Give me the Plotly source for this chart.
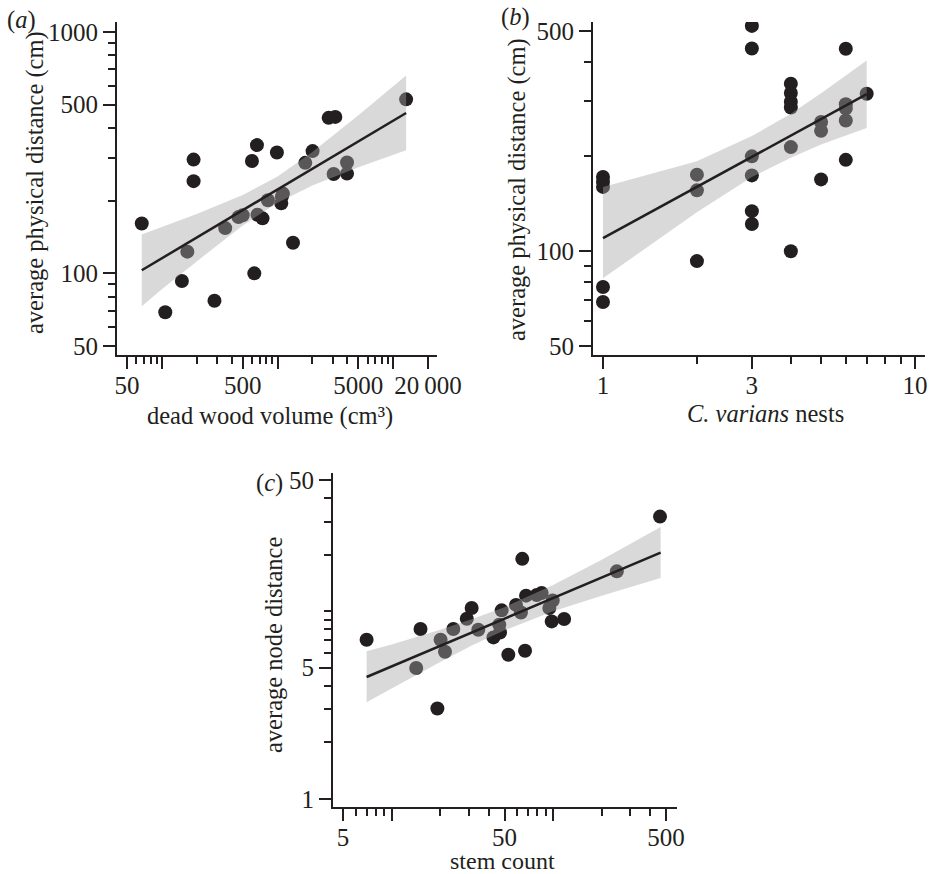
import plotly.graph_objects as go

INK = "#231f20"
BAND = "rgba(164,164,166,0.42)"
FONT = "Liberation Serif"

# panel (a): dead wood volume vs average physical distance
a_x = [67, 107, 149, 166, 188, 188, 285, 353, 460, 500, 601, 664, 630, 671, 742,
       826, 988, 1077, 1114, 1090, 1361, 1738, 2010, 2767, 3162, 3055, 3990, 3990, 12940]
a_y = [161, 69, 93, 123, 296, 241, 77, 154, 171, 174, 292, 340, 100, 175, 169,
       201, 317, 195, 214, 208, 134, 287, 321, 441, 445, 258, 288, 259, 526]
a_fit_x = [67, 12940]
a_fit_y = [103, 462]
a_band_x = [67, 100, 200, 500, 1000, 2000, 5000, 12940]
a_band_hi = [145, 156, 176, 211, 252, 318, 452, 661]
a_band_lo = [73, 86, 112, 158, 196, 231, 275, 324]

# panel (b): C. varians nests vs average physical distance
b_x = [1, 1, 1, 1, 1, 2, 2, 2, 3, 3, 3, 3, 3, 3, 4, 4, 4, 4, 4, 4,
       5, 5, 5, 6, 6, 6, 6, 6, 7]
b_y = [172, 166, 160, 77, 69, 175, 156, 93, 519, 440, 200, 174, 134, 122,
       340, 318, 298, 286, 214, 100, 257, 241, 169, 439, 293, 284, 260, 195, 316]
b_fit_x = [1, 7]
b_fit_y = [110, 315]
b_band_x = [1, 2, 3, 4, 5, 6, 7]
b_band_hi = [160, 193, 232, 273, 317, 360, 403]
b_band_lo = [82, 133, 172, 198, 218, 233, 246]

# panel (c): stem count vs average node distance
c_x = [7.0, 14.2, 15.1, 19.2, 20.1, 21.4, 24.1, 29.2, 31.3, 34.4, 42.7, 46.9, 46.4, 48.0,
       52.8, 58.9, 63.2, 64.4, 67.0, 68.0, 79.1, 84.9, 94.7, 99.4, 98, 117, 248, 459]
c_y = [7.04, 4.98, 8.03, 3.03, 7.05, 6.08, 8.03, 9.11, 10.4, 7.96, 7.25, 7.7, 8.47, 10.1,
       5.86, 10.8, 9.84, 19.0, 6.15, 12.1, 12.2, 12.5, 10.4, 11.4, 8.82, 9.08, 16.3, 31.9]
c_fit_x = [7.0, 463]
c_fit_y = [4.46, 20.5]
c_band_x = [7.0, 10, 20, 31.6, 50, 100, 200, 463]
c_band_hi = [6.11, 6.65, 7.96, 9.08, 10.5, 13.8, 18.8, 28.1]
c_band_lo = [3.27, 3.88, 5.36, 6.58, 7.91, 10.0, 12.1, 15.0]

W, H = 929, 874


def px_x(v):
    return v / W


def px_y(v):
    return 1 - v / H


panels = [
    dict(xs="x", ys="y", x=a_x, y=a_y, fx=a_fit_x, fy=a_fit_y,
         bx=a_band_x, hi=a_band_hi, lo=a_band_lo),
    dict(xs="x2", ys="y2", x=b_x, y=b_y, fx=b_fit_x, fy=b_fit_y,
         bx=b_band_x, hi=b_band_hi, lo=b_band_lo),
    dict(xs="x3", ys="y3", x=c_x, y=c_y, fx=c_fit_x, fy=c_fit_y,
         bx=c_band_x, hi=c_band_hi, lo=c_band_lo),
]

fig = go.Figure()

for p in panels:
    fig.add_trace(go.Scatter(
        x=p["x"], y=p["y"], mode="markers", xaxis=p["xs"], yaxis=p["ys"],
        marker=dict(size=14, color=INK, line=dict(width=0)),
    ))
    # confidence band drawn over the points, so they show grey inside it
    fig.add_trace(go.Scatter(
        x=p["bx"] + p["bx"][::-1], y=p["hi"] + p["lo"][::-1],
        xaxis=p["xs"], yaxis=p["ys"], mode="lines", fill="toself",
        fillcolor=BAND, line=dict(width=0),
    ))
    fig.add_trace(go.Scatter(
        x=p["fx"], y=p["fy"], mode="lines", xaxis=p["xs"], yaxis=p["ys"],
        line=dict(color=INK, width=2.5),
    ))

axis_common = dict(
    type="log", showgrid=False, zeroline=False, showline=True, automargin=False,
    linecolor=INK, linewidth=2, ticks="outside", ticklen=12, tickwidth=2,
    tickcolor=INK, tickfont=dict(family=FONT, size=25, color=INK),
    tickmode="array", fixedrange=True,
)
x_common = dict(axis_common, ticklabelstandoff=-5)


def minor(vals):
    return dict(tickmode="array", tickvals=vals, ticks="outside",
                ticklen=7, tickwidth=2, tickcolor=INK)


fig.update_layout(
    width=W, height=H,
    margin=dict(l=0, r=0, t=0, b=0),
    paper_bgcolor="white", plot_bgcolor="white",
    showlegend=False,
    font=dict(family=FONT, size=24, color=INK),
    xaxis=dict(x_common, domain=[px_x(117), px_x(437)], anchor="y",
               range=[1.612, 4.379],
               tickvals=[50, 100, 500, 1000, 5000, 10000, 20000],
               ticktext=["50", "", "500", "", "5000", "", "20\u2009000"],
               minor=minor([60, 70, 80, 90, 200, 300, 400, 600, 700, 800, 900,
                            2000, 3000, 4000, 6000, 7000, 8000, 9000])),
    yaxis=dict(axis_common, domain=[px_y(355), px_y(22)], anchor="x",
               range=[1.6617, 3.0415],
               tickvals=[50, 100, 500, 1000],
               ticktext=["50", "100", "500", "1000"],
               minor=minor([60, 70, 80, 90, 200, 300, 400, 600, 700, 800, 900])),
    xaxis2=dict(x_common, domain=[px_x(593), px_x(925)], anchor="y2",
                range=[-0.032, 1.032],
                tickvals=[1, 3, 10], ticktext=["1", "3", "10"],
                minor=minor([2, 4, 5, 6, 7, 8, 9])),
    yaxis2=dict(axis_common, domain=[px_y(355), px_y(22)], anchor="x2",
                range=[1.6704, 2.7276],
                tickvals=[50, 100, 500], ticktext=["50", "100", "500"],
                minor=minor([60, 70, 80, 90, 200, 300, 400])),
    xaxis3=dict(x_common, domain=[px_x(333), px_x(677)], anchor="y3",
                range=[0.637, 2.767],
                tickvals=[5, 10, 50, 100, 500], ticktext=["5", "", "50", "", "500"],
                minor=minor([6, 7, 8, 9, 20, 30, 40, 60, 70, 80, 90, 200, 300, 400])),
    yaxis3=dict(axis_common, domain=[px_y(807), px_y(473)], anchor="x3",
                range=[-0.043, 1.736],
                tickvals=[1, 5, 50], ticktext=["1", "5", "50"],
                minor=minor([2, 3, 4, 6, 7, 8, 9, 10, 20, 30, 40])),
)

labels = [
    ("(<i>a</i>)", 5, 20, 0, "left", 24.5),
    ("(<i>b</i>)", 499, 17, 0, "left", 24.5),
    ("(<i>c</i>)", 254, 483, 0, "left", 24.5),
    ("average physical distance (cm)", 35, 183, -90, "center", 24.5),
    ("average physical distance (cm)", 517, 190, -90, "center", 24.5),
    ("average node distance", 273, 645, -90, "center", 24.5),
    ("dead wood volume (cm\u00b3)", 270, 416, 0, "center", 24.5),
    ("<i>C. varians</i> nests", 765, 414, 0, "center", 24.5),
    ("stem count", 502, 861, 0, "center", 24),
]
for text, x, y, ang, anchor, size in labels:
    fig.add_annotation(
        text=text, x=px_x(x), y=px_y(y), xref="paper", yref="paper",
        xanchor=anchor, yanchor="middle", textangle=ang, showarrow=False,
        font=dict(family=FONT, size=size, color=INK),
    )

fig.write_html(
    "out.html",
    config={"displayModeBar": False},
    post_script="document.body.style.margin='0';document.body.style.overflow='hidden';",
)
